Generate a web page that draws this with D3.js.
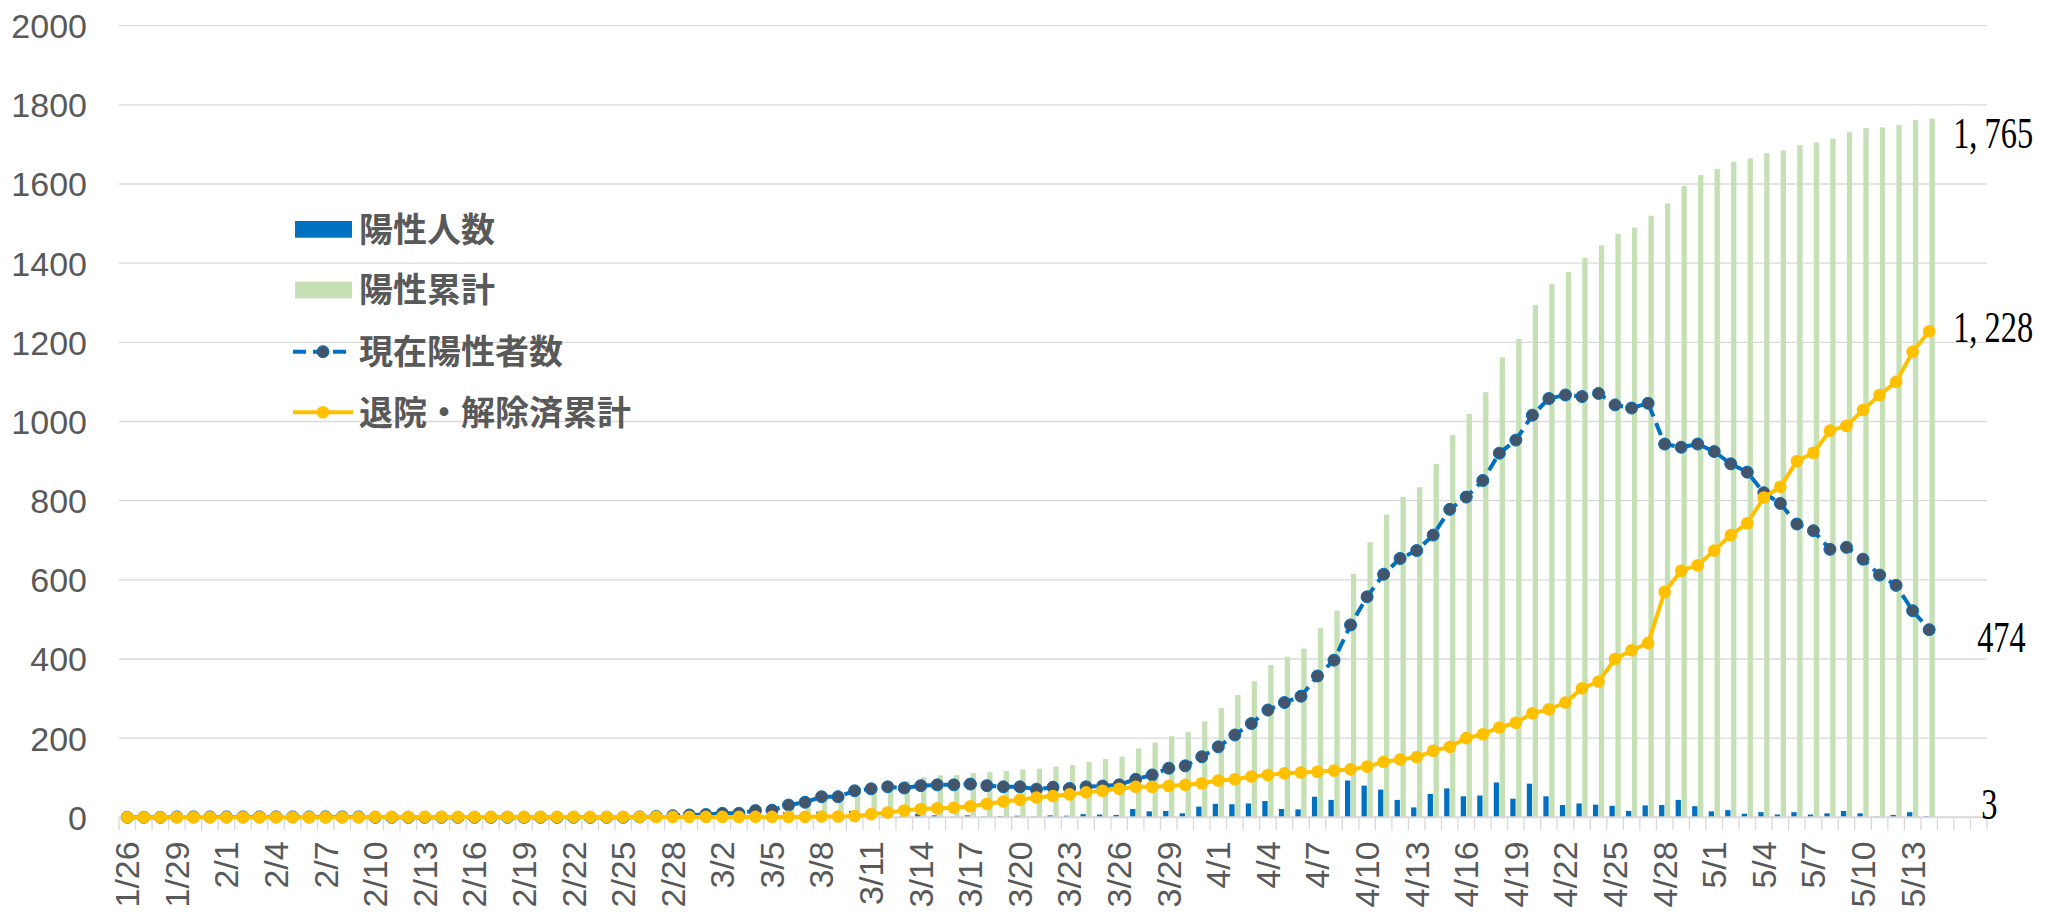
<!DOCTYPE html>
<html>
<head>
<meta charset="utf-8">
<script src="https://cdn.jsdelivr.net/npm/d3@7"></script>
<style>
  body { margin: 0; background: #fff; }
  svg { display: block; }
</style>
</head>
<body>
<svg id="chart" width="2060" height="912"></svg>
<script>
// Reporting dates (1/26 – 5/14); three empty slots follow on the axis.
const dates = [
  "1/26","1/27","1/28","1/29","1/30","1/31",
  "2/1","2/2","2/3","2/4","2/5","2/6","2/7","2/8","2/9","2/10",
  "2/11","2/12","2/13","2/14","2/15","2/16","2/17","2/18","2/19","2/20",
  "2/21","2/22","2/23","2/24","2/25","2/26","2/27","2/28","2/29",
  "3/1","3/2","3/3","3/4","3/5","3/6","3/7","3/8","3/9","3/10",
  "3/11","3/12","3/13","3/14","3/15","3/16","3/17","3/18","3/19","3/20",
  "3/21","3/22","3/23","3/24","3/25","3/26","3/27","3/28","3/29","3/30","3/31",
  "4/1","4/2","4/3","4/4","4/5","4/6","4/7","4/8","4/9","4/10",
  "4/11","4/12","4/13","4/14","4/15","4/16","4/17","4/18","4/19","4/20",
  "4/21","4/22","4/23","4/24","4/25","4/26","4/27","4/28","4/29","4/30",
  "5/1","5/2","5/3","5/4","5/5","5/6","5/7","5/8","5/9","5/10",
  "5/11","5/12","5/13","5/14"
];
const emptySlots = ["", "", ""];

// 陽性人数 (new positives per day)
const dailyPositive = [
  0,0,0,1,0,0,0,0,0,0,
  0,0,0,0,0,0,0,0,0,0,
  0,0,0,0,0,0,0,0,0,0,
  0,1,1,2,2,1,3,1,6,2,
  13,7,14,1,16,10,9,2,9,5,
  1,5,2,3,4,2,5,4,8,7,
  6,21,15,16,10,27,34,33,35,41,
  21,20,52,44,93,80,70,44,25,59,
  73,53,55,88,47,85,53,31,35,32,
  29,16,30,31,44,28,15,18,9,13,
  7,13,7,10,16,10,2,6,13,3
];

// 陽性累計 (cumulative positives)
const cumulativePositive = [
  0,0,0,1,1,1,1,1,1,1,
  1,1,1,1,1,1,1,1,1,1,
  1,1,1,1,1,1,1,1,1,1,
  1,2,3,5,7,8,11,12,18,20,
  33,40,54,55,71,81,90,92,101,106,
  107,112,114,117,121,123,128,132,140,147,
  153,174,189,205,215,242,276,309,344,385,
  406,426,478,522,615,695,765,809,834,893,
  966,1019,1074,1162,1209,1294,1347,1378,1413,1445,
  1474,1490,1520,1551,1595,1623,1638,1656,1665,1678,
  1685,1698,1705,1715,1731,1741,1743,1749,1762,1765
];

// 現在陽性者数 (currently positive)
const currentPositive = [
  0,0,0,1,1,1,1,1,1,1,
  1,1,1,1,1,0,0,0,0,0,
  0,0,0,0,0,0,0,0,0,0,
  0,1,2,4,6,7,10,10,17,18,
  31,38,52,52,67,72,77,74,80,82,
  82,84,80,77,77,71,76,73,77,79,
  82,96,107,124,130,153,178,208,237,271,
  290,306,357,397,486,557,614,654,674,713,
  778,809,851,920,953,1016,1058,1067,1063,1071,
  1042,1034,1046,943,935,943,924,893,872,820,
  793,741,724,677,682,652,612,586,522,474
];

// 退院・解除済累計 (cumulative discharged / released)
const dischargedCumulative = [
  0,0,0,0,0,0,0,0,0,0,
  0,0,0,0,0,1,1,1,1,1,
  1,1,1,1,1,1,1,1,1,1,
  1,1,1,1,1,1,1,1,1,1,
  1,1,2,2,3,8,12,17,21,23,
  24,28,34,40,44,50,54,58,63,67,
  72,77,77,79,82,86,93,96,103,107,
  111,113,115,118,121,128,140,146,152,168,
  178,200,210,227,239,263,273,290,326,343,
  400,422,440,570,623,637,674,713,743,808,
  835,900,921,977,989,1029,1067,1100,1176,1228
];

const yTicks = [0,200,400,600,800,1000,1200,1400,1600,1800,2000];
const seriesNames = ["陽性人数", "陽性累計", "現在陽性者数", "退院・解除済累計"];

// ---- layout & styles ----
const W = 2060, H = 912;
const plot = { left: 119, right: 1987, top: 25.7, bottom: 817.3 };
const colors = {
  daily: "#0070C0", cumulative: "#C5E0B4",
  currentLine: "#0070C0", currentMarker: "#44546A",
  discharged: "#FFC000", grid: "#D9D9D9", text: "#595959"
};
const axisFont = "'Liberation Sans', Arial, sans-serif";
const legendFont = "'Noto Sans CJK JP', 'Noto Sans', sans-serif";
const valueFont = "'Liberation Serif', 'DejaVu Serif', serif";

const svg = d3.select("#chart");
svg.append("rect").attr("width", W).attr("height", H).attr("fill", "#fff");

const slots = dates.concat(emptySlots);
const idx = d3.range(slots.length);
const n = dates.length;

const x = d3.scaleBand().domain(idx).range([plot.left, plot.right]).padding(0);
const xInner = d3.scaleBand().domain(["daily", "cumulative"])
  .range([2.7, 13.9]).paddingInner(0.1).paddingOuter(0);
const y = d3.scaleLinear().domain([0, 2000]).range([plot.bottom, plot.top]);
const cx = i => x(i) + x.bandwidth() / 2;

// gridlines
svg.append("g").selectAll("line").data(yTicks.slice(1)).join("line")
  .attr("x1", plot.left).attr("x2", plot.right)
  .attr("y1", d => y(d)).attr("y2", d => y(d))
  .attr("stroke", colors.grid).attr("stroke-width", 1.3);

// y axis labels
const yAxis = svg.append("g").attr("transform", `translate(${plot.left - 32},0)`)
  .call(d3.axisLeft(y).tickValues(yTicks).tickSize(0).tickPadding(0).tickFormat(d3.format("d")));
yAxis.select(".domain").remove();
yAxis.selectAll("text").attr("font-family", axisFont).attr("font-size", 34)
  .attr("fill", colors.text).attr("dy", "0.35em");

// bars
const bars = svg.append("g");
bars.selectAll("rect.daily").data(dailyPositive).join("rect").attr("class", "daily")
  .attr("x", (d, i) => x(i) + xInner("daily")).attr("width", xInner.bandwidth())
  .attr("y", d => y(d)).attr("height", d => y(0) - y(d)).attr("fill", colors.daily);
bars.selectAll("rect.cum").data(cumulativePositive).join("rect").attr("class", "cum")
  .attr("x", (d, i) => x(i) + xInner("cumulative")).attr("width", xInner.bandwidth())
  .attr("y", d => y(d)).attr("height", d => y(0) - y(d)).attr("fill", colors.cumulative);

// category axis: baseline, boundary ticks, rotated date labels
const xAxisG = svg.append("g").attr("transform", `translate(0,${plot.bottom})`);
const boundaries = idx.map(i => x(i)).concat([plot.right]);
xAxisG.selectAll("line.tick-mark").data(boundaries).join("line").attr("class", "tick-mark")
  .attr("x1", d => d).attr("x2", d => d).attr("y1", 0).attr("y2", 13)
  .attr("stroke", colors.grid).attr("stroke-width", 1.3);
xAxisG.append("line").attr("x1", plot.left).attr("x2", plot.right)
  .attr("y1", 0).attr("y2", 0).attr("stroke", colors.grid).attr("stroke-width", 2);

const labelIdx = idx.filter(i => i % 3 === 0 && slots[i] !== "");
const xAxis = d3.axisBottom(x).tickValues(labelIdx).tickFormat(i => slots[i]).tickSize(0);
const xLabels = svg.append("g").attr("transform", `translate(0,${plot.bottom})`).call(xAxis);
xLabels.select(".domain").remove();
xLabels.selectAll("text")
  .attr("font-family", axisFont).attr("font-size", 34).attr("fill", colors.text)
  .attr("transform", "rotate(-90)").attr("x", -24).attr("y", 0).attr("dy", "0.35em")
  .style("text-anchor", "end");

// lines
const line = d3.line().x((d, i) => cx(i)).y(d => y(d));

const curG = svg.append("g");
curG.append("path").datum(currentPositive).attr("d", line)
  .attr("fill", "none").attr("stroke", colors.currentLine).attr("stroke-width", 4)
  .attr("stroke-dasharray", "13 7").attr("stroke-linejoin", "round");
curG.selectAll("circle").data(currentPositive).join("circle")
  .attr("cx", (d, i) => cx(i)).attr("cy", d => y(d)).attr("r", 6)
  .attr("fill", colors.currentMarker).attr("stroke", colors.currentLine).attr("stroke-width", 1);

const disG = svg.append("g");
disG.append("path").datum(dischargedCumulative).attr("d", line)
  .attr("fill", "none").attr("stroke", colors.discharged).attr("stroke-width", 4)
  .attr("stroke-linejoin", "round");
disG.selectAll("circle").data(dischargedCumulative).join("circle")
  .attr("cx", (d, i) => cx(i)).attr("cy", d => y(d)).attr("r", 6.3)
  .attr("fill", colors.discharged);

// end-of-series value labels
const last = n - 1;
const endLabels = [
  { value: cumulativePositive[last], dx: 24, dy: 13 },
  { value: dischargedCumulative[last], dx: 24, dy: -5 },
  { value: currentPositive[last], dx: 48, dy: 6 },
  { value: dailyPositive[last], dx: 52, dy: -13 }
];
const fmt = d3.format(",");
endLabels.forEach(l => {
  const parts = fmt(l.value).split(",");
  const t = svg.append("text")
    .attr("transform", `translate(${cx(last) + l.dx},${y(l.value) + l.dy}) scale(0.72,1)`)
    .attr("font-family", valueFont).attr("font-size", 45).attr("fill", "#000")
    .attr("dominant-baseline", "central");
  parts.forEach((p, k) => {
    const ts = t.append("tspan").text(k < parts.length - 1 ? p + "," : p);
    if (k > 0) ts.attr("dx", 10);
  });
});

// legend
const lg = svg.append("g");
const legendRows = [229.3, 290, 351.7, 412.3];
lg.append("rect").attr("x", 295).attr("y", legendRows[0] - 8.3).attr("width", 57).attr("height", 16.7)
  .attr("fill", colors.daily);
lg.append("rect").attr("x", 295).attr("y", legendRows[1] - 8.3).attr("width", 57).attr("height", 16.7)
  .attr("fill", colors.cumulative);
lg.append("line").attr("x1", 293).attr("x2", 348).attr("y1", legendRows[2]).attr("y2", legendRows[2])
  .attr("stroke", colors.currentLine).attr("stroke-width", 4).attr("stroke-dasharray", "13 7");
lg.append("circle").attr("cx", 323).attr("cy", legendRows[2]).attr("r", 6)
  .attr("fill", colors.currentMarker).attr("stroke", colors.currentLine).attr("stroke-width", 1);
lg.append("line").attr("x1", 293).attr("x2", 353).attr("y1", legendRows[3]).attr("y2", legendRows[3])
  .attr("stroke", colors.discharged).attr("stroke-width", 4);
lg.append("circle").attr("cx", 323).attr("cy", legendRows[3]).attr("r", 6.3).attr("fill", colors.discharged);
lg.selectAll("text").data(seriesNames).join("text")
  .attr("x", 359).attr("y", (d, i) => legendRows[i]).attr("dy", "0.36em")
  .attr("font-family", legendFont).attr("font-weight", 700).attr("font-size", 34)
  .attr("fill", colors.text).text(d => d);
</script>
</body>
</html>
